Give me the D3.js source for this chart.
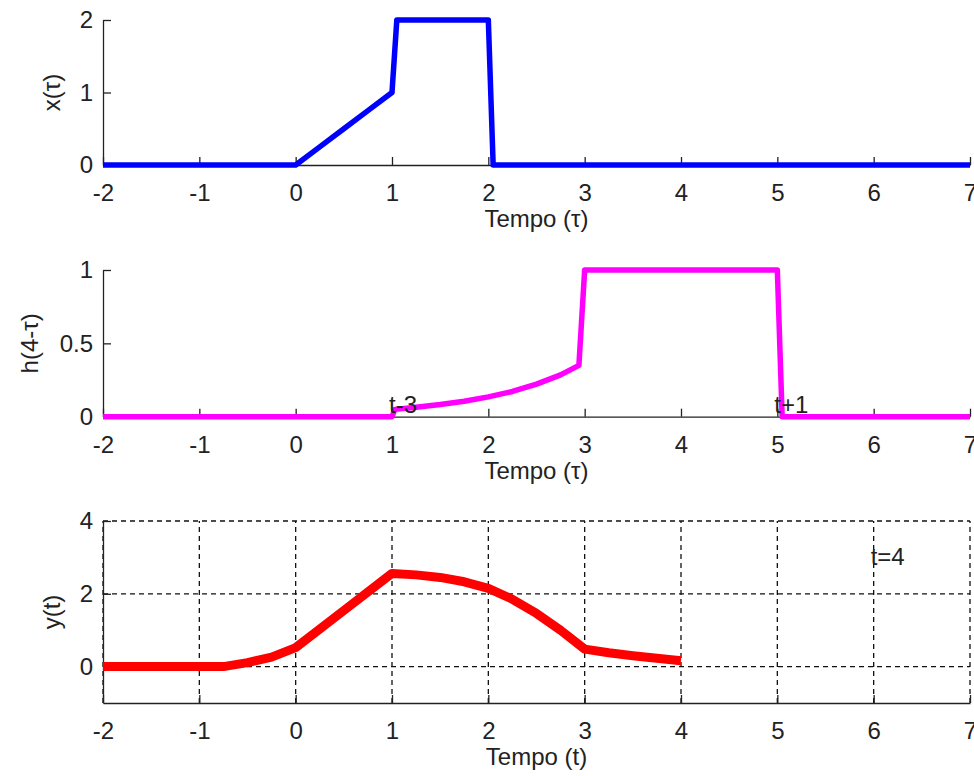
<!DOCTYPE html>
<html>
<head>
<meta charset="utf-8">
<script src="https://cdn.jsdelivr.net/npm/d3@7"></script>
<style>
  html, body { margin: 0; padding: 0; background: #fff; }
  svg { display: block; }
  text { font-family: "Liberation Sans", Arial, sans-serif; fill: #222; }
</style>
</head>
<body>
<svg id="chart" width="974" height="776"></svg>
<script>
// x(τ): input signal
const xTau = [-2, 0, 0.25, 0.5, 0.75, 1.0, 1.05, 2.0, 2.05, 7];
const xVal = [0, 0, 0.25, 0.5, 0.75, 1.0, 2.0, 2.0, 0, 0];

// h(4-τ): flipped and shifted impulse response
const hTau = [-2, 1.0, 1.03, 1.25, 1.5, 1.75, 2.0, 2.25, 2.5, 2.75, 2.94, 3.0, 5.0, 5.05, 7];
const hVal = [0, 0, 0.05, 0.065, 0.083, 0.105, 0.135, 0.172, 0.222, 0.285, 0.35, 1, 1, 0, 0];

// y(t): convolution output computed up to t = 4
const yT   = [-2, -1, -0.75, -0.5, -0.25, 0, 0.5, 1.0, 1.25, 1.5, 1.75, 2.0, 2.25, 2.5, 2.75, 3.0, 3.25, 3.5, 3.75, 4.0];
const yVal = [0, 0, 0, 0.11, 0.26, 0.52, 1.54, 2.56, 2.52, 2.45, 2.33, 2.15, 1.85, 1.46, 1.0, 0.48, 0.38, 0.3, 0.23, 0.16];

// Tick values
const xTicks = [-2, -1, 0, 1, 2, 3, 4, 5, 6, 7];
const yTicksTop = [0, 1, 2];
const yTicksMid = [0, 0.5, 1];
const yTicksBot = [0, 2, 4];

// Annotations
const midNotes = [{x: 1, y: 0.08, label: "t-3"}, {x: 5, y: 0.08, label: "t+1"}];
const botNotes = [{x: 6, y: 3, label: "t=4"}];

const svg = d3.select("#chart");
const FONT = 24;

const x = d3.scaleLinear().domain([-2, 7]).range([103, 970]);

const panels = [
  { tau: xTau, val: xVal, y: d3.scaleLinear().domain([0, 2]).range([165, 20]),
    yTicks: yTicksTop, ylabel: "x(τ)", ylabX: 60, xlabel: "Tempo (τ)",
    color: "#0000ff", width: 5.5, grid: false, notes: [] },
  { tau: hTau, val: hVal, y: d3.scaleLinear().domain([0, 1]).range([416.7, 270]),
    yTicks: yTicksMid, ylabel: "h(4-τ)", ylabX: 38, xlabel: "Tempo (τ)",
    color: "#ff00ff", width: 5.5, grid: false, notes: midNotes },
  { tau: yT, val: yVal, y: d3.scaleLinear().domain([-1, 4]).range([703, 521]),
    yTicks: yTicksBot, ylabel: "y(t)", ylabX: 60, xlabel: "Tempo (t)",
    color: "#ff0000", width: 9, grid: true, notes: botNotes }
];

panels.forEach(p => {
  const g = svg.append("g");
  const [y0, y1] = p.y.range();

  if (p.grid) {
    const grid = g.append("g").attr("stroke", "#111").attr("stroke-width", 1.3)
      .attr("stroke-dasharray", "5,4").attr("fill", "none");
    grid.selectAll("line.v").data(xTicks).join("line").attr("class", "v")
      .attr("x1", d => x(d)).attr("x2", d => x(d)).attr("y1", y0).attr("y2", y1);
    grid.selectAll("line.h").data(p.yTicks).join("line").attr("class", "h")
      .attr("x1", x.range()[0]).attr("x2", x.range()[1])
      .attr("y1", d => p.y(d)).attr("y2", d => p.y(d));
  }

  const xAxis = d3.axisBottom(x).tickValues(xTicks).tickFormat(d => String(d))
    .tickSizeInner(-8).tickSizeOuter(0).tickPadding(19);
  const gx = g.append("g").attr("transform", `translate(0,${y0})`).call(xAxis);

  const yAxis = d3.axisLeft(p.y).tickValues(p.yTicks).tickFormat(d => String(d))
    .tickSizeInner(-8).tickSizeOuter(0).tickPadding(10);
  const gy = g.append("g").attr("transform", `translate(${x.range()[0]},0)`).call(yAxis);

  [gx, gy].forEach(a => {
    a.selectAll("path, line").attr("stroke", "#222").attr("stroke-width", 1.3);
    a.selectAll("text").attr("font-size", FONT).attr("fill", "#222")
      .attr("font-family", "Liberation Sans, Arial, sans-serif");
  });

  g.append("text").attr("x", (x.range()[0] + x.range()[1]) / 2).attr("y", y0 + 62)
    .attr("text-anchor", "middle").attr("font-size", FONT).text(p.xlabel);

  g.append("text")
    .attr("transform", `translate(${p.ylabX},${(y0 + y1) / 2}) rotate(-90)`)
    .attr("text-anchor", "middle").attr("font-size", FONT).text(p.ylabel);

  const line = d3.line().x((d, i) => x(p.tau[i])).y(d => p.y(d));
  g.append("path").datum(p.val).attr("d", line).attr("fill", "none")
    .attr("stroke", p.color).attr("stroke-width", p.width)
    .attr("stroke-linejoin", "round").attr("stroke-linecap", "butt");

  g.selectAll("text.note").data(p.notes).join("text").attr("class", "note")
    .attr("x", d => x(d.x) - 3).attr("y", d => p.y(d.y)).attr("dy", "0.32em")
    .attr("font-size", FONT).text(d => d.label);
});
</script>
</body>
</html>
